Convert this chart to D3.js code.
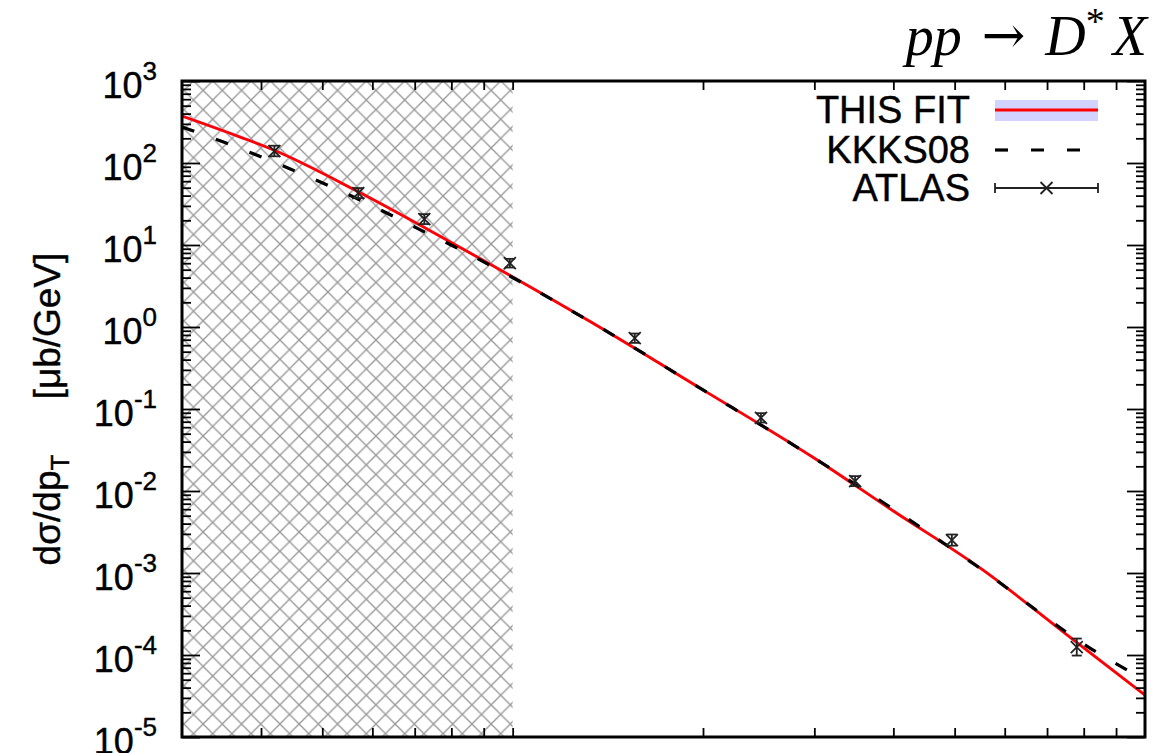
<html>
<head>
<meta charset="utf-8">
<script src="https://d3js.org/d3.v7.min.js"></script>
<style>
    body { margin: 0; background: #fff; }
    svg { display: block; font-family: "Liberation Sans", Arial, sans-serif; }
    .frame { fill: none; stroke: #000; stroke-width: 3px; }
    .axis path { display: none; }
    .axis line { stroke: #000; stroke-width: 1.8px; }
    .fit { fill: none; stroke: #f00; stroke-width: 2.8px; }
    .band { fill: #c8c8ff; opacity: 0.8; }
    .kkks { fill: none; stroke: #000; stroke-width: 3.2px; stroke-dasharray: 13 23; }
    .atlas line { stroke: #222; stroke-width: 1.8px; }
    .ylab text { font-size: 36px; stroke: #000; stroke-width: 0.4px; }
    .big { stroke: #000; stroke-width: 0.4px; }
</style>
</head>
<body>
<svg width=1162 height=753></svg>

<script>
    // THIS FIT (red curve), pT in GeV, dsigma/dpT in mub/GeV
    let fitPt  = [3, 3.71, 4.18, 5.71, 8.29, 13.3, 20, 29.8, 40, 55.4, 75, 100];
    let fitVal = [374, 207, 145, 44.3, 9.19, 1.15, 0.171, 0.026, 5.7e-3, 1.09e-3, 1.8e-4, 3.25e-5];

    // KKKS08 (dashed)
    let kkksPt  = [3, 3.49, 4.45, 5.65, 7.16, 8.05, 13.3, 20, 29.8, 40, 53.9, 83.7, 100];
    let kkksVal = [275, 180, 84.5, 37.4, 15.2, 9.72, 1.15, 0.171, 0.026, 6.0e-3, 1.25e-3, 1.09e-4, 4.96e-5];

    // ATLAS data points
    let atlasPt  = [4.2, 5.7, 7.25, 9.9, 15.6, 24.7, 34.8, 49.5, 78];
    let atlasVal = [140, 43, 20.7, 6.0, 0.73, 0.078, 0.0132, 0.00252, 1.25e-4];
    let atlasErr = [0.16, 0.15, 0.15, 0.13, 0.14, 0.14, 0.15, 0.17, 0.27];

    let yDecades = [-5, -4, -3, -2, -1, 0, 1, 2, 3];
    let xTicks = [4, 5, 6, 7, 8, 9, 10, 20, 30, 40, 50, 60, 70, 80, 90];
    let hatchEnd = 10;

    let svg = d3.select('svg'),
        margin = { top: 81, right: 17, bottom: 16, left: 182 },
        width = +svg.attr('width') - margin.left - margin.right,
        height = +svg.attr('height') - margin.top - margin.bottom;

    let x = d3.scaleLog().domain([3, 100]).range([margin.left, margin.left + width]);
    let y = d3.scaleLog().domain([1e-5, 1e3]).range([margin.top + height, margin.top]);

    let defs = svg.append('defs');
    let pat = defs.append('pattern')
        .attr('id', 'hatch')
        .attr('patternUnits', 'userSpaceOnUse')
        .attr('x', 1.5).attr('y', 4)
        .attr('width', 19.2).attr('height', 19.2);
    pat.append('path')
        .attr('d', 'M0,0L19.2,19.2M19.2,0L0,19.2M-2,2L2,-2M17.2,21.2L21.2,17.2M-2,17.2L2,21.2M17.2,-2L21.2,2')
        .attr('stroke', '#9a9a9a')
        .attr('stroke-width', 1.4)
        .attr('fill', 'none');

    defs.append('clipPath').attr('id', 'plot')
      .append('rect')
        .attr('x', margin.left).attr('y', margin.top)
        .attr('width', width).attr('height', height);

    // hatched region
    svg.append('rect')
        .attr('x', x(3)).attr('y', margin.top)
        .attr('width', x(hatchEnd) - x(3)).attr('height', height)
        .attr('fill', 'url(#hatch)');

    let g = svg.append('g').attr('clip-path', 'url(#plot)');

    let fitData = fitPt.map((p, i) => [p, fitVal[i]]);
    let kkksData = kkksPt.map((p, i) => [p, kkksVal[i]]);

    g.append('path')
        .attr('class', 'band')
        .attr('d', d3.area()
            .x(d => x(d[0]))
            .y0(d => y(d[1] * 0.95))
            .y1(d => y(d[1] * 1.05))
            .curve(d3.curveMonotoneX)(fitData));

    g.append('path')
        .attr('class', 'fit')
        .attr('d', d3.line().x(d => x(d[0])).y(d => y(d[1])).curve(d3.curveMonotoneX)(fitData));

    g.append('path')
        .attr('class', 'kkks')
        .attr('d', d3.line().x(d => x(d[0])).y(d => y(d[1])).curve(d3.curveMonotoneX)(kkksData));

    // ATLAS points
    let pts = svg.append('g').attr('class', 'atlas')
      .selectAll('g')
      .data(atlasPt.map((p, i) => ({ p: p, v: atlasVal[i], e: atlasErr[i] })))
      .enter().append('g')
        .attr('transform', d => 'translate(' + x(d.p) + ',0)');
    pts.append('line')
        .attr('x1', 0).attr('x2', 0)
        .attr('y1', d => y(d.v * (1 + d.e))).attr('y2', d => y(d.v / (1 + d.e)));
    pts.append('line').attr('x1', -5).attr('x2', 5)
        .attr('y1', d => y(d.v * (1 + d.e))).attr('y2', d => y(d.v * (1 + d.e)));
    pts.append('line').attr('x1', -5).attr('x2', 5)
        .attr('y1', d => y(d.v / (1 + d.e))).attr('y2', d => y(d.v / (1 + d.e)));
    pts.append('line').attr('x1', -6).attr('x2', 6)
        .attr('y1', d => y(d.v) - 6).attr('y2', d => y(d.v) + 6);
    pts.append('line').attr('x1', -6).attr('x2', 6)
        .attr('y1', d => y(d.v) + 6).attr('y2', d => y(d.v) - 6);

    // ticks
    let majors = yDecades.map(e => Math.pow(10, e));
    let minors = [];
    yDecades.slice(0, -1).forEach(e => d3.range(2, 10).forEach(k => minors.push(k * Math.pow(10, e))));

    svg.append('g').attr('class', 'axis')
        .attr('transform', 'translate(' + margin.left + ',0)')
        .call(d3.axisLeft(y).tickValues(majors).tickSize(-18).tickFormat(''));
    svg.append('g').attr('class', 'axis')
        .attr('transform', 'translate(' + margin.left + ',0)')
        .call(d3.axisLeft(y).tickValues(minors).tickSize(-9).tickFormat(''));
    svg.append('g').attr('class', 'axis')
        .attr('transform', 'translate(' + (margin.left + width) + ',0)')
        .call(d3.axisRight(y).tickValues(majors).tickSize(-18).tickFormat(''));
    svg.append('g').attr('class', 'axis')
        .attr('transform', 'translate(' + (margin.left + width) + ',0)')
        .call(d3.axisRight(y).tickValues(minors).tickSize(-9).tickFormat(''));
    svg.append('g').attr('class', 'axis')
        .attr('transform', 'translate(0,' + (margin.top + height) + ')')
        .call(d3.axisBottom(x).tickValues(xTicks).tickSize(-9).tickFormat(''));
    svg.append('g').attr('class', 'axis')
        .attr('transform', 'translate(0,' + margin.top + ')')
        .call(d3.axisTop(x).tickValues(xTicks).tickSize(-9).tickFormat(''));

    // y tick labels 10^n
    let lab = svg.append('g').attr('class', 'ylab')
      .selectAll('text')
      .data(yDecades)
      .enter().append('text')
        .attr('x', 157)
        .attr('y', d => y(Math.pow(10, d)) + 17)
        .attr('text-anchor', 'end');
    lab.append('tspan').text('10');
    lab.append('tspan')
        .attr('dy', -18)
        .attr('font-size', '26px')
        .text(d => String(d));

    svg.append('rect')
        .attr('class', 'frame')
        .attr('x', margin.left).attr('y', margin.top)
        .attr('width', width).attr('height', height);

    // y axis title
    svg.append('text')
        .attr('class', 'big')
        .attr('transform', 'translate(60,510) rotate(-90)')
        .attr('text-anchor', 'middle')
        .attr('font-size', '37px')
        .call(t => {
            t.append('tspan').text('dσ/dp');
            t.append('tspan').attr('dy', 9).attr('font-size', '26px').text('T');
        });
    svg.append('text')
        .attr('class', 'big')
        .attr('transform', 'translate(60,326) rotate(-90)')
        .attr('text-anchor', 'middle')
        .attr('font-size', '37px')
        .text('[μb/GeV]');

    // process title
    let tt = svg.append('text')
        .attr('x', 1147).attr('y', 55)
        .attr('text-anchor', 'end')
        .attr('font-family', '"Liberation Serif", "DejaVu Serif", serif')
        .attr('font-size', '56px');
    tt.append('tspan').attr('font-style', 'italic').text('pp');
    tt.append('tspan').attr('dx', 20).attr('dy', -2).attr('font-family', '"DejaVu Serif", serif').attr('font-size', '52px').text('→');
    tt.append('tspan').attr('dx', 20).attr('dy', 2).attr('font-style', 'italic').text('D');
    tt.append('tspan').attr('dy', -21).attr('font-size', '38px').text('*');
    tt.append('tspan').attr('dy', 21).attr('dx', 8).attr('font-style', 'italic').text('X');

    // legend
    let legNames = ['THIS FIT', 'KKKS08', 'ATLAS'];
    let legY = [110, 150, 188];
    let lx0 = 995, lx1 = 1098;
    svg.append('g').selectAll('text')
        .data(legNames)
        .enter().append('text')
        .attr('class', 'big')
        .attr('x', 970)
        .attr('y', (d, i) => legY[i] + 13)
        .attr('text-anchor', 'end')
        .attr('font-size', '38px')
        .text(d => d);

    svg.append('rect').attr('class', 'band')
        .attr('x', lx0).attr('y', legY[0] - 10).attr('width', lx1 - lx0).attr('height', 21);
    svg.append('line').attr('class', 'fit')
        .attr('x1', lx0).attr('x2', lx1).attr('y1', legY[0]).attr('y2', legY[0]);
    svg.append('line').attr('class', 'kkks')
        .attr('x1', lx0).attr('x2', lx1).attr('y1', legY[1]).attr('y2', legY[1]);
    let la = svg.append('g').attr('class', 'atlas');
    la.append('line').attr('x1', lx0).attr('x2', lx1).attr('y1', legY[2]).attr('y2', legY[2]);
    la.append('line').attr('x1', lx0).attr('x2', lx0).attr('y1', legY[2] - 5).attr('y2', legY[2] + 5);
    la.append('line').attr('x1', lx1).attr('x2', lx1).attr('y1', legY[2] - 5).attr('y2', legY[2] + 5);
    let lc = (lx0 + lx1) / 2;
    la.append('line').attr('x1', lc - 6).attr('x2', lc + 6).attr('y1', legY[2] - 6).attr('y2', legY[2] + 6);
    la.append('line').attr('x1', lc - 6).attr('x2', lc + 6).attr('y1', legY[2] + 6).attr('y2', legY[2] - 6);
</script>
</body>
</html>
